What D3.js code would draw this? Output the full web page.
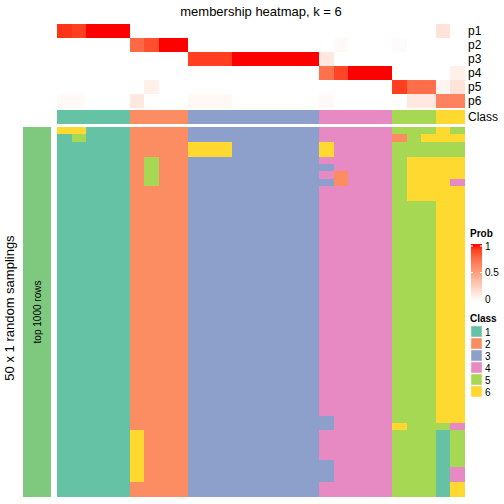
<!DOCTYPE html>
<html><head><meta charset="utf-8">
<script src="https://cdn.jsdelivr.net/npm/d3@7"></script>
<style>body{margin:0;background:#fff}svg{display:block}text{font-family:"Liberation Sans",Arial,sans-serif}</style>
</head><body><svg id="c" width="504" height="504"></svg>
<script>
const title = "membership heatmap, k = 6";
const probRows = ["p1","p2","p3","p4","p5","p6"];
const colClass = [1,1,1,1,1, 2,2,2,2, 3,3,3,3,3,3,3,3,3, 4,4,4,4,4, 5,5,5, 6,6];
const p1 = [0.93,0.9,1,1,1, 0,0,0,0, 0,0,0,0,0,0,0,0,0, 0,0,0,0,0, 0,0,0, 0.15,0];
const p2 = [0,0,0,0,0, 0.75,0.85,1,1, 0,0,0,0,0,0,0,0,0, 0,0.03,0,0,0, 0.02,0,0, 0,0];
const p3 = [0,0,0,0,0, 0,0,0,0, 0.9,0.9,0.9,1,1,1,1,1,1, 0.12,0,0,0,0, 0,0,0, 0,0];
const p4 = [0,0,0,0,0, 0,0,0,0, 0,0,0,0,0,0,0,0,0, 0.72,0.88,1,1,1, 0,0,0, 0,0.08];
const p5 = [0,0,0,0,0, 0,0.08,0,0, 0,0,0,0,0,0,0,0,0, 0,0,0,0,0, 0.9,0.73,0.73, 0.06,0.15];
const p6 = [0.03,0.03,0,0,0, 0.12,0,0,0, 0.04,0.04,0.04,0,0,0,0,0,0, 0.04,0,0,0,0, 0,0.12,0.12, 0.64,0.64];
// 50 random samplings x 28 columns (class labels)
const samplings = [
"6611122223333333334444455565",
"1511122223333333334444425666",
"1111122226663333336444455555",
"1111122226663333336444455555",
"1111125223333333334444456666",
"1111125223333333333444456666",
"1111125223333333334244456666",
"1111125223333333333244456664",
"1111122223333333334444456666",
"1111122223333333334444456666",
"1111122223333333334444455566","1111122223333333334444455566","1111122223333333334444455566",
"1111122223333333334444455566","1111122223333333334444455566","1111122223333333334444455566",
"1111122223333333334444455566","1111122223333333334444455566","1111122223333333334444455566",
"1111122223333333334444455566","1111122223333333334444455566","1111122223333333334444455566",
"1111122223333333334444455566","1111122223333333334444455566","1111122223333333334444455566",
"1111122223333333334444455566","1111122223333333334444455566","1111122223333333334444455566",
"1111122223333333334444455566","1111122223333333334444455566","1111122223333333334444455566",
"1111122223333333334444455566","1111122223333333334444455566","1111122223333333334444455566",
"1111122223333333334444455566","1111122223333333334444455566","1111122223333333334444455566",
"1111122223333333334444455566","1111122223333333334444455566",
"1111122223333333333444455566",
"1111122223333333333444465554",
"1111162223333333334444455515",
"1111162223333333334444455515",
"1111162223333333334444455515",
"1111162223333333334444455515",
"1111162223333333333444455515",
"1111162223333333333444455514",
"1111162223333333333444455514",
"1111122223333333334444455516",
"1111122223333333334444455516"
];
const classLabels = ["1","2","3","4","5","6"];
const classColors = ["#66C2A5","#FC8D62","#8DA0CB","#E78AC3","#A6D854","#FFD92F"];
const probTicks = [0, 0.5, 1];

const svg = d3.select("#c");
const colorClass = d3.scaleOrdinal().domain(classLabels).range(classColors);
const colorProb = d3.scaleLinear().domain([0,1]).range(["#FFFFFF","#FF0000"]).interpolate(d3.interpolateLab);

const nCol = colClass.length;
const x = d3.scaleBand().domain(d3.range(nCol)).range([57,465]);
const yP = d3.scaleBand().domain(probRows).range([24,108]);
const yS = d3.scaleBand().domain(d3.range(samplings.length)).range([127,497]);
// pixel-snapped band edges
const xl = j => Math.round(x(j));
const xw = j => Math.round(x(j) + x.bandwidth()) - Math.round(x(j));
const sl = i => Math.round(yS(i));
const sh = i => Math.round(yS(i) + yS.bandwidth()) - Math.round(yS(i));

svg.append("text").attr("x",261).attr("y",16).attr("text-anchor","middle").attr("font-size",13).text(title);

const probData = [p1,p2,p3,p4,p5,p6];
probRows.forEach((r,i)=>{
  svg.append("g").attr("shape-rendering","crispEdges").selectAll("rect").data(probData[i]).join("rect")
    .attr("x",(d,j)=>xl(j)).attr("y",Math.round(yP(r))).attr("width",(d,j)=>xw(j)).attr("height",Math.round(yP.bandwidth()))
    .attr("fill",d=>colorProb(d));
  svg.append("text").attr("x",468).attr("y",yP(r)+yP.bandwidth()/2).attr("dy","0.35em")
    .attr("font-size",12).text(r);
});
// class row
svg.append("g").attr("shape-rendering","crispEdges").selectAll("rect").data(colClass).join("rect")
  .attr("x",(d,j)=>xl(j)).attr("y",110).attr("width",(d,j)=>xw(j)).attr("height",14)
  .attr("fill",d=>colorClass(String(d)));
svg.append("text").attr("x",468).attr("y",117).attr("dy","0.35em").attr("font-size",12).text("Class");

// samplings
const cells = [];
samplings.forEach((s,i)=>{ for(let j=0;j<nCol;j++) cells.push({i,j,c:s[j]}); });
svg.append("g").attr("shape-rendering","crispEdges").selectAll("rect").data(cells).join("rect")
  .attr("x",d=>xl(d.j)).attr("y",d=>sl(d.i)).attr("width",d=>xw(d.j)).attr("height",d=>sh(d.i))
  .attr("fill",d=>colorClass(d.c));

// left annotation
svg.append("rect").attr("x",23).attr("y",127).attr("width",28).attr("height",370).attr("fill","#7FC97F");
svg.append("text").attr("transform","translate(41,312) rotate(-90)").attr("text-anchor","middle")
  .attr("font-size",10).text("top 1000 rows");
svg.append("text").attr("transform","translate(14,308) rotate(-90)").attr("text-anchor","middle")
  .attr("font-size",13).text("50 x 1 random samplings");

// Prob legend
const defs = svg.append("defs");
const grad = defs.append("linearGradient").attr("id","pg").attr("x1",0).attr("y1",1).attr("x2",0).attr("y2",0);
d3.range(0,1.0001,0.1).forEach(t=>grad.append("stop").attr("offset",t).attr("stop-color",colorProb(t)));
svg.append("text").attr("x",470).attr("y",237).attr("font-size",10).attr("font-weight","bold").text("Prob");
const yL = d3.scaleLinear().domain([0,1]).range([299,246]);
svg.append("rect").attr("x",471).attr("y",yL(1)-2).attr("width",11).attr("height",yL(0)-yL(1)+4).attr("fill","url(#pg)");
probTicks.forEach(t=>{
  svg.append("text").attr("x",485).attr("y",yL(t)).attr("dy","0.35em").attr("font-size",10).text(t);
  svg.append("line").attr("x1",471).attr("x2",473).attr("y1",yL(t)).attr("y2",yL(t)).attr("stroke","#fff");
  svg.append("line").attr("x1",480).attr("x2",482).attr("y1",yL(t)).attr("y2",yL(t)).attr("stroke","#fff");
});

// Class legend
svg.append("text").attr("x",470).attr("y",322).attr("font-size",10).attr("font-weight","bold").text("Class");
const yC = d3.scaleBand().domain(classLabels).range([326,398]);
svg.append("g").selectAll("rect").data(classLabels).join("rect")
  .attr("x",471).attr("y",d=>yC(d)).attr("width",11).attr("height",yC.bandwidth()-1)
  .attr("fill",d=>colorClass(d)).attr("stroke","#eee").attr("stroke-width",0.5);
svg.append("g").selectAll("text").data(classLabels).join("text")
  .attr("x",485).attr("y",d=>yC(d)+yC.bandwidth()/2).attr("dy","0.35em").attr("font-size",10).text(d=>d);
</script></body></html>
